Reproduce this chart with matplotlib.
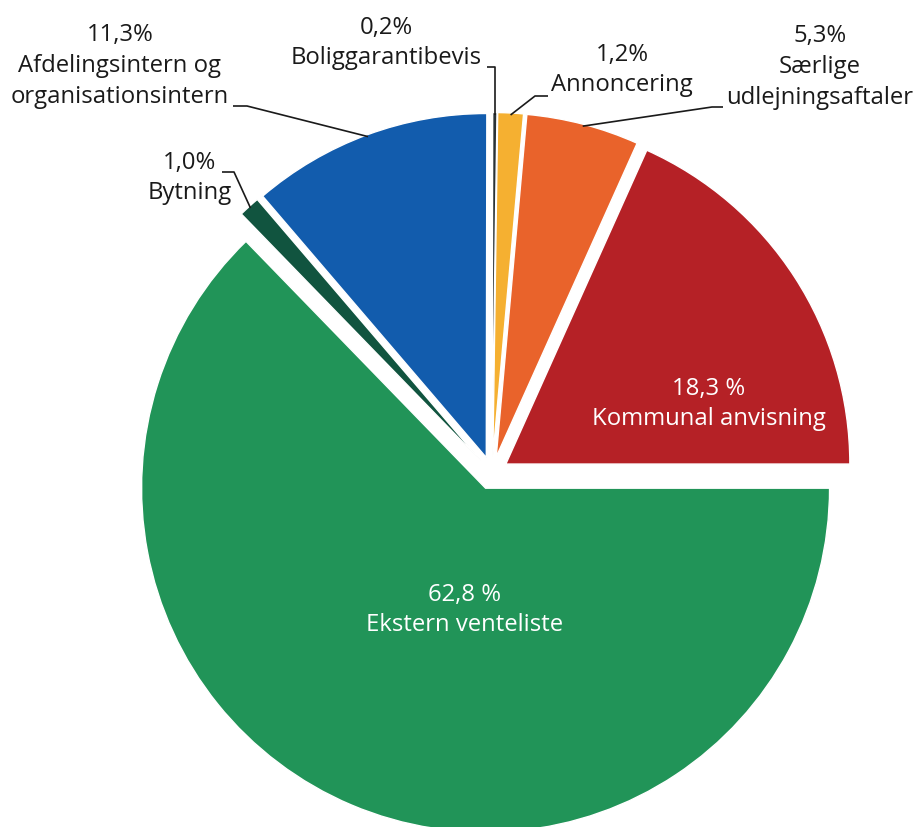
import numpy as np
import matplotlib
matplotlib.use("Agg")
import matplotlib.pyplot as plt

# ---- data ----
categories = ["Kommunal anvisning", "Særlige\nudlejningsaftaler", "Annoncering",
              "Boliggarantibevis", "Afdelingsintern og\norganisationsintern",
              "Bytning", "Ekstern venteliste"]
values = [18.3, 5.3, 1.2, 0.2, 11.3, 1.0, 62.8]
value_labels = ["18,3 %", "5,3%", "1,2%", "0,2%", "11,3%", "1,0%", "62,8 %"]
inside = [True, False, False, False, False, False, True]

colors = ["#B52126", "#E9632B", "#F5B031", "#2A3236", "#125CAD", "#11543F", "#219458"]

W, H = 916, 827
fig = plt.figure(figsize=(W / 100, H / 100), dpi=100)
ax = fig.add_axes([0, 0, 1, 1])

cx, cy = 492, H - 473
R = 344
explode = [16.5] * len(values)

wedges, _ = ax.pie(values, colors=colors, startangle=0, counterclock=True,
                   explode=explode, center=(cx, cy), radius=R, frame=True,
                   wedgeprops=dict(edgecolor="white", linewidth=1.0))
ax.set_xlim(0, W)
ax.set_ylim(0, H)
ax.axis("off")

FONT = "Open Sans"
FS = 17.2
LS = 1.38

def py(y):
    return H - y

# label layout (pixel coords, y downward): text center, leader path (text side points)
layout = {
    0: dict(pos=(709, 404)),
    6: dict(pos=(465, 610)),
    4: dict(pos=(120, 66), path=[(233, 106), (247, 106)]),
    3: dict(pos=(386, 43), path=[(487, 67)], vert=True),
    2: dict(pos=(622, 70), path=[(548, 96), (535, 96)]),
    1: dict(pos=(820, 67), path=[(723, 107), (712, 107)]),
    5: dict(pos=(190, 178), path=[(222, 172), (234, 172)]),
}

for i, w in enumerate(wedges):
    lay = layout[i]
    txt = value_labels[i] + "\n" + categories[i]
    x, y = lay["pos"]
    ax.text(x, py(y), txt, ha="center", va="center", fontsize=FS, family=FONT,
            color="white" if inside[i] else "#1a1a1a", linespacing=LS)
    if "path" in lay:
        th = np.deg2rad((w.theta1 + w.theta2) / 2)
        wx = w.center[0] + (w.r - 2) * np.cos(th)
        wy = w.center[1] + (w.r - 2) * np.sin(th)
        pts = [(px, py(pyy)) for px, pyy in lay["path"]]
        if lay.get("vert"):
            pts = pts + [(wx, pts[-1][1])]
        pts = pts + [(wx, wy)]
        xs, ys = zip(*pts)
        ax.plot(xs, ys, color="#1a1a1a", linewidth=1.2, solid_capstyle="butt")

fig.savefig("out.png", dpi=100)
